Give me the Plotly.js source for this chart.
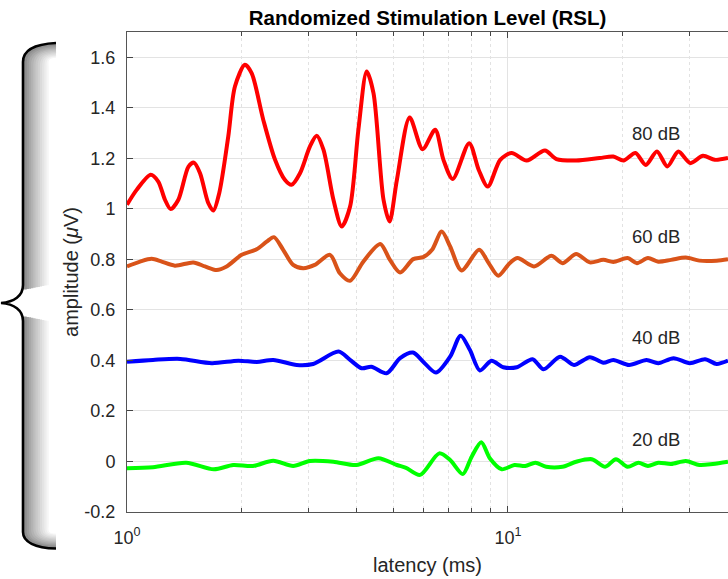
<!DOCTYPE html>
<html>
<head>
<meta charset="utf-8">
<script src="https://cdn.plot.ly/plotly-3.0.1.min.js"></script>
<style>html,body{margin:0;padding:0;background:#fff;}#chart{width:728px;height:579px;}</style>
</head>
<body>
<div id="chart"></div>
<script>
// ---- data (latency in ms, amplitude in µV) ----
const lat80 = [1, 1.06, 1.154, 1.208, 1.258, 1.302, 1.364, 1.45, 1.499, 1.555, 1.634, 1.685, 1.746, 1.844, 1.92, 2.039, 2.124, 2.279, 2.447, 2.596, 2.703, 2.845, 3.022, 3.147, 3.278, 3.482, 3.662, 3.851, 4.049, 4.258, 4.436, 4.713, 4.889, 5.11, 5.52, 5.97, 6.44, 6.77, 7.16, 7.91, 8.38, 8.85, 9.54, 10.22, 11.2, 12.5, 13.4, 15.1, 17.4, 18.9, 20.1, 21.6, 23.0, 24.6, 26.2, 28.0, 30.1, 32.5, 34.9, 37.8];
const amp80 = [1.016, 1.075, 1.135, 1.108, 1.036, 0.999, 1.036, 1.167, 1.183, 1.141, 1.023, 0.993, 1.062, 1.286, 1.484, 1.570, 1.537, 1.352, 1.194, 1.115, 1.095, 1.141, 1.247, 1.289, 1.234, 1.036, 0.930, 1.009, 1.313, 1.544, 1.458, 1.036, 0.950, 1.115, 1.362, 1.236, 1.313, 1.194, 1.118, 1.260, 1.154, 1.088, 1.194, 1.221, 1.191, 1.231, 1.197, 1.191, 1.201, 1.207, 1.191, 1.221, 1.174, 1.227, 1.168, 1.227, 1.181, 1.210, 1.194, 1.201];

const lat60 = [1, 1.082, 1.161, 1.233, 1.336, 1.493, 1.602, 1.719, 1.826, 2.0, 2.189, 2.326, 2.43, 2.57, 2.73, 2.90, 3.11, 3.41, 3.62, 3.85, 4.17, 4.62, 4.90, 5.21, 5.64, 5.99, 6.32, 6.70, 7.05, 7.55, 8.40, 8.90, 9.43, 10.1, 10.6, 11.7, 13.0, 13.9, 15.1, 16.4, 17.8, 18.9, 20.6, 21.8, 23.3, 24.8, 26.8, 29.3, 31.8, 35.3, 37.8];
const amp60 = [0.772, 0.791, 0.802, 0.791, 0.775, 0.788, 0.772, 0.758, 0.772, 0.818, 0.840, 0.870, 0.888, 0.838, 0.778, 0.765, 0.778, 0.818, 0.745, 0.715, 0.791, 0.861, 0.798, 0.748, 0.801, 0.809, 0.838, 0.910, 0.851, 0.756, 0.838, 0.785, 0.735, 0.785, 0.805, 0.772, 0.814, 0.785, 0.821, 0.788, 0.798, 0.790, 0.805, 0.785, 0.805, 0.791, 0.798, 0.807, 0.795, 0.795, 0.801];

const lat40 = [1, 1.17, 1.38, 1.67, 1.96, 2.19, 2.42, 2.79, 3.08, 3.59, 3.85, 4.13, 4.38, 4.80, 5.21, 5.63, 5.99, 6.47, 7.05, 7.51, 7.94, 8.44, 9.05, 9.72, 10.55, 11.6, 12.4, 13.7, 14.9, 16.4, 17.8, 18.9, 20.8, 23.1, 24.8, 27.2, 30.0, 32.9, 35.3, 37.8];
const amp40 = [0.395, 0.402, 0.406, 0.389, 0.399, 0.394, 0.402, 0.382, 0.386, 0.435, 0.402, 0.369, 0.375, 0.349, 0.409, 0.431, 0.395, 0.352, 0.415, 0.498, 0.442, 0.360, 0.399, 0.373, 0.373, 0.405, 0.365, 0.415, 0.382, 0.413, 0.391, 0.402, 0.382, 0.402, 0.389, 0.409, 0.389, 0.405, 0.386, 0.399];

const lat20 = [1, 1.17, 1.43, 1.69, 1.90, 2.14, 2.42, 2.73, 3.02, 3.48, 4.00, 4.57, 5.11, 5.40, 5.88, 6.60, 7.05, 7.61, 8.03, 8.51, 8.96, 9.63, 10.4, 11.1, 11.8, 12.6, 13.9, 15.1, 16.6, 18.0, 19.2, 20.6, 22.0, 23.3, 24.8, 26.8, 29.3, 31.8, 34.5, 37.8];
const amp20 = [-0.027, -0.023, -0.005, -0.031, -0.014, -0.018, 0.003, -0.018, 0.002, -0.001, -0.014, 0.013, -0.014, -0.025, -0.053, 0.032, 0.006, -0.050, 0.019, 0.076, 0.013, -0.031, -0.014, -0.018, -0.005, -0.021, -0.021, -0.001, 0.009, -0.021, 0.009, -0.021, -0.005, -0.018, -0.005, -0.010, 0.002, -0.014, -0.010, -0.001];

const levelLabels = ['80 dB', '60 dB', '40 dB', '20 dB'];
const labelLatency = 24.4;
const labelAmp = [1.30, 0.89, 0.49, 0.088];

const yTickVals = [-0.2, 0, 0.2, 0.4, 0.6, 0.8, 1, 1.2, 1.4, 1.6];
const yTickText = ['-0.2', '0', '0.2', '0.4', '0.6', '0.8', '1', '1.2', '1.4', '1.6'];
const xTickVals = [1, 10];
const xTickText = ['10<sup>0</sup>', '10<sup>1</sup>'];
const xMinorVals = [2, 3, 4, 5, 6, 7, 8, 9, 20, 30];

// ---- traces ----
const colors = ['#ff0000', '#d95319', '#0000ff', '#00ff00'];
const series = [[lat80, amp80], [lat60, amp60], [lat40, amp40], [lat20, amp20]];
const traces = series.map((s, i) => ({
  x: s[0], y: s[1], type: 'scatter', mode: 'lines',
  line: {color: colors[i], width: 4, shape: 'spline', smoothing: 0.8},
  showlegend: false, hoverinfo: 'skip'
}));

// ---- layout geometry (pixels) ----
const W = 728, H = 579;
const mL = 127, mR = 0, mT = 32, mB = 67;
const pw = W - mL - mR, ph = H - mT - mB;
const px = v => ((v - mL) / pw).toFixed(5);
const py = v => ((H - mB - v) / ph).toFixed(5);
const P = (x, y) => px(x) + ',' + py(y);

// curly brace decoration
function bracePaths(o) {
  const top = 'M' + P(56, 43 + o * 0.55) +
    ' C' + P(35 + o * 0.4, 44 + o * 0.55) + ' ' + P(23 + o, 50 + o * 0.5) + ' ' + P(23 + o, 62 + o * 0.3) +
    ' L' + P(23 + o, 290 - o * 0.2);
  const bot = 'M' + P(23 + o, 316 + o * 0.2) +
    ' L' + P(23 + o, 532 - o * 0.3) +
    ' C' + P(23 + o, 542 - o * 0.5) + ' ' + P(35 + o * 0.4, 548 - o * 0.55) + ' ' + P(56, 548.5 - o * 0.55);
  return [top, bot];
}
const shapes = [];
for (let k = 12; k >= 1; k--) {
  const o = k * 2.2;
  const c = Math.round(125 + Math.pow(o / 26.4, 0.8) * 130);
  bracePaths(o).forEach(p => shapes.push({
    type: 'path', xref: 'paper', yref: 'paper', path: p,
    line: {color: `rgb(${c},${c},${c})`, width: 3}, layer: 'above'
  }));
}
const braceOutline = 'M' + P(56, 43) +
  ' C' + P(35, 44) + ' ' + P(23, 50) + ' ' + P(23, 62) +
  ' L' + P(23, 285) +
  ' C' + P(23, 296) + ' ' + P(14, 302) + ' ' + P(1, 303) +
  ' C' + P(14, 304) + ' ' + P(23, 310) + ' ' + P(23, 321) +
  ' L' + P(23, 532) +
  ' C' + P(23, 542) + ' ' + P(35, 548) + ' ' + P(56, 548.5);
shapes.push({type: 'path', xref: 'paper', yref: 'paper', path: braceOutline,
  line: {color: '#000000', width: 2.6}, layer: 'above'});

const annotations = levelLabels.map((t, i) => ({
  x: Math.log10(labelLatency), y: labelAmp[i], xref: 'x', yref: 'y',
  text: t, showarrow: false, font: {size: 18.5, color: '#262626'}
}));

const font = {family: '"Liberation Sans", Arial, Helvetica, sans-serif', size: 18, color: '#262626'};

const layout = {
  width: W, height: H,
  margin: {l: mL, r: mR, t: mT, b: mB, pad: 0},
  paper_bgcolor: '#ffffff', plot_bgcolor: '#ffffff',
  font: font,
  title: {text: '<b>Randomized Stimulation Level (RSL)</b>', font: {size: 20.5, color: '#000000'},
    xref: 'paper', x: 0.5, xanchor: 'center', yref: 'container', y: 1 - 18 / H, yanchor: 'middle'},
  xaxis: {
    type: 'log', range: [0, Math.log10(37.8)],
    tickmode: 'array', tickvals: xTickVals, ticktext: xTickText,
    ticks: 'inside', ticklen: 6, tickcolor: '#444',
    tickfont: {size: 18, color: '#262626'},
    showline: true, linecolor: '#555', linewidth: 1, mirror: 'ticks',
    showgrid: true, gridcolor: '#e3e3e3', gridwidth: 1,
    zeroline: false, ticklabelstandoff: 9,
    minor: {tickmode: 'array', tickvals: xMinorVals, ticks: 'inside', ticklen: 4, tickcolor: '#444',
      showgrid: true, gridcolor: '#e2e2e2', griddash: 'dot', gridwidth: 1},
    title: {text: 'latency (ms)', font: {size: 20, color: '#262626'}, standoff: 11}
  },
  yaxis: {
    range: [-0.2, 1.7],
    tickmode: 'array', tickvals: yTickVals, ticktext: yTickText,
    ticks: 'inside', ticklen: 6, tickcolor: '#444',
    tickfont: {size: 18, color: '#262626'},
    showline: true, linecolor: '#555', linewidth: 1, mirror: false,
    showgrid: true, gridcolor: '#e3e3e3', gridwidth: 1,
    zeroline: false, ticklabelstandoff: 7,
    title: {text: 'amplitude (<i>μ</i>V)', font: {size: 20, color: '#262626'}, standoff: 0}
  },
  shapes: shapes,
  annotations: annotations
};

Plotly.newPlot('chart', traces, layout, {displayModeBar: false, staticPlot: true});
</script>
</body>
</html>
